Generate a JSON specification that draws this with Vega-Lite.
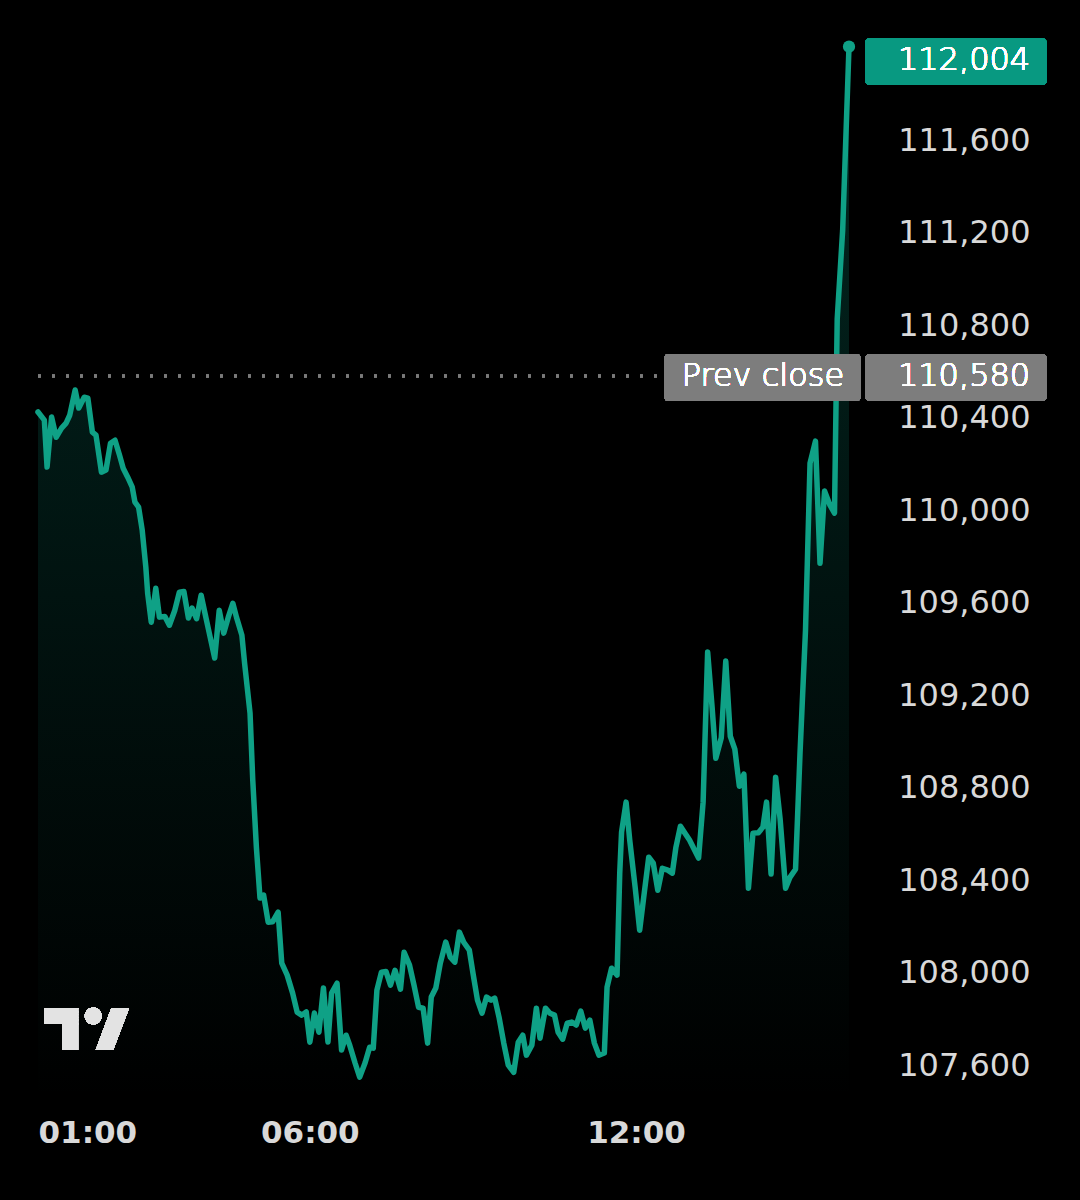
{
  "$schema": "https://vega.github.io/schema/vega-lite/v6.json",
  "autosize": {"type": "none"},
  "padding": {"left": 38, "top": 2, "right": 231, "bottom": 100},
  "width": 811,
  "height": 1098,
  "background": "#000000",
  "config": {
    "view": {"stroke": null},
    "font": "DejaVu Sans"
  },
  "data": {
    "values": [
      {"t": "2025-07-10T01:00", "p": 110424},
      {"t": "2025-07-10T01:07", "p": 110389},
      {"t": "2025-07-10T01:10", "p": 110186},
      {"t": "2025-07-10T01:15", "p": 110402},
      {"t": "2025-07-10T01:20", "p": 110315},
      {"t": "2025-07-10T01:26", "p": 110354},
      {"t": "2025-07-10T01:31", "p": 110376},
      {"t": "2025-07-10T01:35", "p": 110410},
      {"t": "2025-07-10T01:41", "p": 110519},
      {"t": "2025-07-10T01:45", "p": 110441},
      {"t": "2025-07-10T01:51", "p": 110488},
      {"t": "2025-07-10T01:55", "p": 110484},
      {"t": "2025-07-10T02:00", "p": 110337},
      {"t": "2025-07-10T02:04", "p": 110324},
      {"t": "2025-07-10T02:10", "p": 110164},
      {"t": "2025-07-10T02:15", "p": 110173},
      {"t": "2025-07-10T02:20", "p": 110289},
      {"t": "2025-07-10T02:25", "p": 110302},
      {"t": "2025-07-10T02:30", "p": 110237},
      {"t": "2025-07-10T02:34", "p": 110181},
      {"t": "2025-07-10T02:39", "p": 110142},
      {"t": "2025-07-10T02:44", "p": 110099},
      {"t": "2025-07-10T02:47", "p": 110034},
      {"t": "2025-07-10T02:51", "p": 110013},
      {"t": "2025-07-10T02:55", "p": 109913},
      {"t": "2025-07-10T02:59", "p": 109753},
      {"t": "2025-07-10T03:01", "p": 109641},
      {"t": "2025-07-10T03:05", "p": 109515},
      {"t": "2025-07-10T03:10", "p": 109662},
      {"t": "2025-07-10T03:14", "p": 109537},
      {"t": "2025-07-10T03:20", "p": 109540},
      {"t": "2025-07-10T03:25", "p": 109502},
      {"t": "2025-07-10T03:31", "p": 109567},
      {"t": "2025-07-10T03:36", "p": 109645},
      {"t": "2025-07-10T03:41", "p": 109648},
      {"t": "2025-07-10T03:46", "p": 109533},
      {"t": "2025-07-10T03:50", "p": 109576},
      {"t": "2025-07-10T03:55", "p": 109530},
      {"t": "2025-07-10T04:00", "p": 109632},
      {"t": "2025-07-10T04:04", "p": 109559},
      {"t": "2025-07-10T04:10", "p": 109450},
      {"t": "2025-07-10T04:15", "p": 109360},
      {"t": "2025-07-10T04:20", "p": 109567},
      {"t": "2025-07-10T04:25", "p": 109468},
      {"t": "2025-07-10T04:30", "p": 109537},
      {"t": "2025-07-10T04:35", "p": 109597},
      {"t": "2025-07-10T04:39", "p": 109537},
      {"t": "2025-07-10T04:45", "p": 109459},
      {"t": "2025-07-10T04:48", "p": 109338},
      {"t": "2025-07-10T04:54", "p": 109122},
      {"t": "2025-07-10T04:57", "p": 108832},
      {"t": "2025-07-10T05:01", "p": 108542},
      {"t": "2025-07-10T05:05", "p": 108322},
      {"t": "2025-07-10T05:09", "p": 108335},
      {"t": "2025-07-10T05:14", "p": 108218},
      {"t": "2025-07-10T05:19", "p": 108220},
      {"t": "2025-07-10T05:25", "p": 108261},
      {"t": "2025-07-10T05:29", "p": 108041},
      {"t": "2025-07-10T05:35", "p": 107989},
      {"t": "2025-07-10T05:41", "p": 107911},
      {"t": "2025-07-10T05:46", "p": 107829},
      {"t": "2025-07-10T05:51", "p": 107816},
      {"t": "2025-07-10T05:56", "p": 107830},
      {"t": "2025-07-10T06:00", "p": 107699},
      {"t": "2025-07-10T06:05", "p": 107825},
      {"t": "2025-07-10T06:10", "p": 107742},
      {"t": "2025-07-10T06:15", "p": 107933},
      {"t": "2025-07-10T06:20", "p": 107700},
      {"t": "2025-07-10T06:24", "p": 107911},
      {"t": "2025-07-10T06:30", "p": 107954},
      {"t": "2025-07-10T06:35", "p": 107665},
      {"t": "2025-07-10T06:40", "p": 107729},
      {"t": "2025-07-10T06:44", "p": 107686},
      {"t": "2025-07-10T06:50", "p": 107608},
      {"t": "2025-07-10T06:55", "p": 107548},
      {"t": "2025-07-10T07:01", "p": 107610},
      {"t": "2025-07-10T07:06", "p": 107677},
      {"t": "2025-07-10T07:10", "p": 107673},
      {"t": "2025-07-10T07:14", "p": 107924},
      {"t": "2025-07-10T07:19", "p": 108002},
      {"t": "2025-07-10T07:24", "p": 108005},
      {"t": "2025-07-10T07:29", "p": 107946},
      {"t": "2025-07-10T07:34", "p": 108010},
      {"t": "2025-07-10T07:40", "p": 107928},
      {"t": "2025-07-10T07:44", "p": 108088},
      {"t": "2025-07-10T07:50", "p": 108032},
      {"t": "2025-07-10T07:55", "p": 107945},
      {"t": "2025-07-10T08:00", "p": 107850},
      {"t": "2025-07-10T08:05", "p": 107846},
      {"t": "2025-07-10T08:10", "p": 107695},
      {"t": "2025-07-10T08:14", "p": 107894},
      {"t": "2025-07-10T08:19", "p": 107933},
      {"t": "2025-07-10T08:24", "p": 108041},
      {"t": "2025-07-10T08:30", "p": 108132},
      {"t": "2025-07-10T08:35", "p": 108067},
      {"t": "2025-07-10T08:40", "p": 108045},
      {"t": "2025-07-10T08:45", "p": 108175},
      {"t": "2025-07-10T08:50", "p": 108130},
      {"t": "2025-07-10T08:56", "p": 108097},
      {"t": "2025-07-10T09:00", "p": 107998},
      {"t": "2025-07-10T09:05", "p": 107881},
      {"t": "2025-07-10T09:10", "p": 107825},
      {"t": "2025-07-10T09:15", "p": 107894},
      {"t": "2025-07-10T09:20", "p": 107881},
      {"t": "2025-07-10T09:24", "p": 107890},
      {"t": "2025-07-10T09:29", "p": 107803},
      {"t": "2025-07-10T09:34", "p": 107695},
      {"t": "2025-07-10T09:39", "p": 107600},
      {"t": "2025-07-10T09:45", "p": 107569},
      {"t": "2025-07-10T09:50", "p": 107699},
      {"t": "2025-07-10T09:55", "p": 107729},
      {"t": "2025-07-10T09:59", "p": 107643},
      {"t": "2025-07-10T10:05", "p": 107686},
      {"t": "2025-07-10T10:10", "p": 107846},
      {"t": "2025-07-10T10:14", "p": 107716},
      {"t": "2025-07-10T10:20", "p": 107846},
      {"t": "2025-07-10T10:25", "p": 107824},
      {"t": "2025-07-10T10:30", "p": 107816},
      {"t": "2025-07-10T10:34", "p": 107742},
      {"t": "2025-07-10T10:39", "p": 107712},
      {"t": "2025-07-10T10:44", "p": 107781},
      {"t": "2025-07-10T10:49", "p": 107786},
      {"t": "2025-07-10T10:54", "p": 107773},
      {"t": "2025-07-10T10:59", "p": 107833},
      {"t": "2025-07-10T11:04", "p": 107760},
      {"t": "2025-07-10T11:09", "p": 107794},
      {"t": "2025-07-10T11:14", "p": 107695},
      {"t": "2025-07-10T11:19", "p": 107643},
      {"t": "2025-07-10T11:25", "p": 107652},
      {"t": "2025-07-10T11:28", "p": 107937},
      {"t": "2025-07-10T11:33", "p": 108019},
      {"t": "2025-07-10T11:39", "p": 107989},
      {"t": "2025-07-10T11:42", "p": 108430},
      {"t": "2025-07-10T11:44", "p": 108607},
      {"t": "2025-07-10T11:49", "p": 108737},
      {"t": "2025-07-10T11:53", "p": 108573},
      {"t": "2025-07-10T11:59", "p": 108369},
      {"t": "2025-07-10T12:04", "p": 108183},
      {"t": "2025-07-10T12:09", "p": 108343},
      {"t": "2025-07-10T12:14", "p": 108499},
      {"t": "2025-07-10T12:19", "p": 108473},
      {"t": "2025-07-10T12:24", "p": 108356},
      {"t": "2025-07-10T12:29", "p": 108451},
      {"t": "2025-07-10T12:35", "p": 108443},
      {"t": "2025-07-10T12:40", "p": 108430},
      {"t": "2025-07-10T12:44", "p": 108542},
      {"t": "2025-07-10T12:49", "p": 108633},
      {"t": "2025-07-10T12:54", "p": 108603},
      {"t": "2025-07-10T12:59", "p": 108573},
      {"t": "2025-07-10T13:03", "p": 108542},
      {"t": "2025-07-10T13:09", "p": 108495},
      {"t": "2025-07-10T13:14", "p": 108737},
      {"t": "2025-07-10T13:19", "p": 109386},
      {"t": "2025-07-10T13:24", "p": 109143},
      {"t": "2025-07-10T13:28", "p": 108927},
      {"t": "2025-07-10T13:34", "p": 109014},
      {"t": "2025-07-10T13:39", "p": 109347},
      {"t": "2025-07-10T13:44", "p": 109022},
      {"t": "2025-07-10T13:49", "p": 108966},
      {"t": "2025-07-10T13:54", "p": 108806},
      {"t": "2025-07-10T13:59", "p": 108858},
      {"t": "2025-07-10T14:04", "p": 108365},
      {"t": "2025-07-10T14:09", "p": 108603},
      {"t": "2025-07-10T14:15", "p": 108605},
      {"t": "2025-07-10T14:20", "p": 108629},
      {"t": "2025-07-10T14:24", "p": 108737},
      {"t": "2025-07-10T14:29", "p": 108426},
      {"t": "2025-07-10T14:34", "p": 108845},
      {"t": "2025-07-10T14:39", "p": 108663},
      {"t": "2025-07-10T14:45", "p": 108365},
      {"t": "2025-07-10T14:50", "p": 108413},
      {"t": "2025-07-10T14:56", "p": 108447},
      {"t": "2025-07-10T15:01", "p": 108953},
      {"t": "2025-07-10T15:07", "p": 109481},
      {"t": "2025-07-10T15:12", "p": 110203},
      {"t": "2025-07-10T15:18", "p": 110298},
      {"t": "2025-07-10T15:23", "p": 109770},
      {"t": "2025-07-10T15:28", "p": 110082},
      {"t": "2025-07-10T15:34", "p": 110021},
      {"t": "2025-07-10T15:39", "p": 109987},
      {"t": "2025-07-10T15:42", "p": 110826},
      {"t": "2025-07-10T15:48", "p": 111210},
      {"t": "2025-07-10T15:55", "p": 112004}
    ]
  },
  "encoding": {
    "x": {
      "field": "t",
      "type": "temporal",
      "scale": {
        "domain": [
          {"year": 2025, "month": 7, "date": 10, "hours": 1, "minutes": 0},
          {"year": 2025, "month": 7, "date": 10, "hours": 15, "minutes": 55}
        ],
        "nice": false
      },
      "axis": {
        "title": null,
        "values": [
          {"year": 2025, "month": 7, "date": 10, "hours": 1},
          {"year": 2025, "month": 7, "date": 10, "hours": 6},
          {"year": 2025, "month": 7, "date": 10, "hours": 12}
        ],
        "format": "%H:%M",
        "labelFlush": true,
        "labelFont": "DejaVu Sans",
        "labelFontSize": 31,
        "labelFontWeight": "bold",
        "labelColor": "#d9d9d9",
        "labelPadding": 18,
        "ticks": false,
        "domain": false,
        "grid": false
      }
    },
    "y": {
      "field": "p",
      "type": "quantitative",
      "scale": {"domain": [107449, 112197], "zero": false, "nice": false},
      "axis": {
        "title": null,
        "orient": "right",
        "values": [107600, 108000, 108400, 108800, 109200, 109600, 110000, 110400, 110800, 111200, 111600],
        "format": ",d",
        "labelAlign": "right",
        "labelBaseline": "middle",
        "labelPadding": 181,
        "labelOverlap": false,
        "labelFont": "DejaVu Sans",
        "labelFontSize": 32,
        "labelFontWeight": "normal",
        "labelColor": "#d9d9d9",
        "ticks": false,
        "tickSize": 0,
        "domain": false,
        "grid": false
      }
    }
  },
  "layer": [
    {
      "mark": {
        "type": "area",
        "color": {
          "gradient": "linear",
          "x1": 0, "y1": 0, "x2": 0, "y2": 1,
          "stops": [
            {"offset": 0, "color": "rgba(8,153,129,0.26)"},
            {"offset": 1, "color": "rgba(8,153,129,0)"}
          ]
        }
      },
      "encoding": {
        "y2": {"datum": 107449}
      }
    },
    {
      "mark": {"type": "rule", "color": "#7a7a7a", "strokeWidth": 2.5, "strokeDash": [2.5, 11.5]},
      "encoding": {
        "x": {"datum": {"year": 2025, "month": 7, "date": 10, "hours": 1, "minutes": 0}, "type": "temporal"},
        "x2": {"datum": {"year": 2025, "month": 7, "date": 10, "hours": 12, "minutes": 31}},
        "y": {"datum": 110580, "type": "quantitative"}
      }
    },
    {
      "mark": {"type": "line", "color": "#0fa186", "strokeWidth": 5.5, "strokeJoin": "round", "strokeCap": "round"}
    },
    {
      "transform": [{"filter": "datum.p === 112004"}],
      "mark": {"type": "point", "filled": true, "color": "#0fa186", "size": 150, "opacity": 1}
    },
    {
      "mark": {"type": "rect", "color": "#089981", "cornerRadius": 4},
      "encoding": {
        "x": {"datum": {"year": 2025, "month": 7, "date": 10, "hours": 16, "minutes": 13}, "type": "temporal"},
        "x2": {"datum": {"year": 2025, "month": 7, "date": 10, "hours": 19, "minutes": 33}},
        "y": {"datum": 112039, "type": "quantitative"},
        "y2": {"datum": 111838}
      }
    },
    {
      "mark": {"type": "rect", "color": "#7d7d7d", "cornerRadius": 4},
      "encoding": {
        "x": {"datum": {"year": 2025, "month": 7, "date": 10, "hours": 12, "minutes": 31}, "type": "temporal"},
        "x2": {"datum": {"year": 2025, "month": 7, "date": 10, "hours": 16, "minutes": 8}},
        "y": {"datum": 110675, "type": "quantitative"},
        "y2": {"datum": 110472}
      }
    },
    {
      "mark": {"type": "rect", "color": "#7d7d7d", "cornerRadius": 4},
      "encoding": {
        "x": {"datum": {"year": 2025, "month": 7, "date": 10, "hours": 16, "minutes": 13}, "type": "temporal"},
        "x2": {"datum": {"year": 2025, "month": 7, "date": 10, "hours": 19, "minutes": 33}},
        "y": {"datum": 110675, "type": "quantitative"},
        "y2": {"datum": 110472}
      }
    },
    {
      "mark": {"type": "text", "text": "112,004", "align": "right", "baseline": "middle", "font": "DejaVu Sans", "fontSize": 32, "fontWeight": 300, "color": "#ffffff"},
      "encoding": {
        "x": {"datum": {"year": 2025, "month": 7, "date": 10, "hours": 19, "minutes": 15}, "type": "temporal"},
        "y": {"datum": 111946, "type": "quantitative"}
      }
    },
    {
      "mark": {"type": "text", "text": "110,580", "align": "right", "baseline": "middle", "font": "DejaVu Sans", "fontSize": 32, "fontWeight": 300, "color": "#ffffff"},
      "encoding": {
        "x": {"datum": {"year": 2025, "month": 7, "date": 10, "hours": 19, "minutes": 15}, "type": "temporal"},
        "y": {"datum": 110580, "type": "quantitative"}
      }
    },
    {
      "mark": {"type": "text", "text": "Prev close", "align": "center", "baseline": "middle", "font": "DejaVu Sans", "fontSize": 32, "fontWeight": 300, "color": "#ffffff"},
      "encoding": {
        "x": {"datum": {"year": 2025, "month": 7, "date": 10, "hours": 14, "minutes": 20}, "type": "temporal"},
        "y": {"datum": 110580, "type": "quantitative"}
      }
    },
    {
      "mark": {
        "type": "point",
        "filled": true,
        "color": "#e3e3e3",
        "opacity": 1,
        "strokeWidth": 0,
        "size": 7123,
        "shape": "M-1,-0.5 L-0.21,-0.5 L-0.21,0.5 L-0.58,0.5 L-0.58,-0.13 L-1,-0.13 Z M-0.05,-0.31 A0.2,0.2 0 1 0 0.35,-0.31 A0.2,0.2 0 1 0 -0.05,-0.31 Z M0.58,-0.5 L1,-0.5 L0.62,0.5 L0.21,0.5 Z"
      },
      "encoding": {
        "x": {"datum": {"year": 2025, "month": 7, "date": 10, "hours": 1, "minutes": 54}, "type": "temporal"},
        "y": {"datum": 107756, "type": "quantitative"}
      }
    }
  ]
}
